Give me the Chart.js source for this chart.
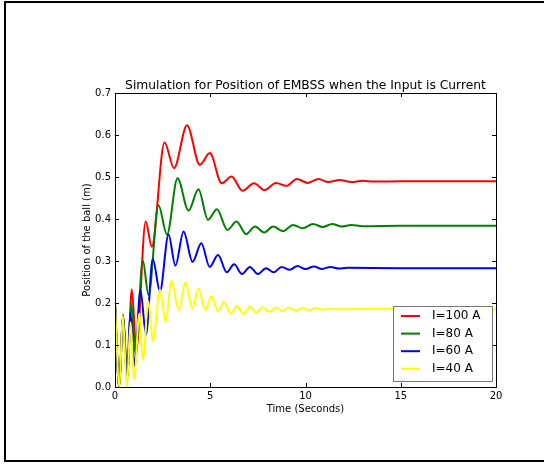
<!DOCTYPE html>
<html>
<head>
<meta charset="utf-8">
<script src="https://cdn.jsdelivr.net/npm/chart.js@4.4.1/dist/chart.umd.min.js"></script>
<style>
  html, body { margin: 0; padding: 0; background: #fff; }
  #wrap { position: relative; width: 544px; height: 466px; overflow: hidden; }
  #frame { position: absolute; left: 4px; top: 1px; width: 600px; height: 461px; box-sizing: border-box; border: 2px solid #000; pointer-events: none; }
</style>
</head>
<body>
<div id="wrap">
  <canvas id="chart" width="544" height="466"></canvas>
  <div id="frame"></div>
</div>
<script>
// values (time in s, position in m), mostly peaks and troughs
const labels = ['I=100 A', 'I=80 A', 'I=60 A', 'I=40 A'];
const colors = ['#ff0000', '#008000', '#0000ff', '#ffff00'];
const titleText = 'Simulation for Position of EMBSS when the Input is Current';

const tRed = [0, 0.22, 0.42, 0.64, 0.88, 1.12, 1.61, 1.93, 2.6, 3.1, 3.78, 4.45, 4.98, 5.6, 6.12, 6.7, 7.3, 7.85, 8.45, 9.0, 9.55, 10.12, 10.68, 11.2, 11.8, 12.4, 13.0, 13.6, 15, 20];
const yRed = [0.2, 0.0, 0.172, 0.02, 0.233, 0.09, 0.394, 0.334, 0.582, 0.521, 0.623, 0.529, 0.557, 0.485, 0.501, 0.467, 0.485, 0.469, 0.486, 0.479, 0.495, 0.486, 0.495, 0.488, 0.493, 0.488, 0.491, 0.489, 0.49, 0.49];

const tGreen = [0, 0.22, 0.42, 0.64, 0.85, 1.07, 1.46, 1.76, 2.28, 2.73, 3.28, 3.86, 4.38, 4.88, 5.35, 5.9, 6.38, 6.88, 7.35, 7.83, 8.3, 8.82, 9.35, 9.85, 10.4, 10.9, 11.4, 11.9, 12.4, 13.0, 15, 20];
const yGreen = [0.2, 0.0, 0.171, 0.02, 0.201, 0.08, 0.301, 0.219, 0.433, 0.363, 0.497, 0.42, 0.471, 0.398, 0.423, 0.374, 0.394, 0.364, 0.382, 0.368, 0.382, 0.371, 0.386, 0.378, 0.388, 0.381, 0.388, 0.382, 0.386, 0.383, 0.384, 0.384];

const tBlue = [0, 0.22, 0.42, 0.63, 0.8, 1.04, 1.33, 1.63, 1.98, 2.36, 2.81, 3.17, 3.6, 4.07, 4.53, 4.97, 5.41, 5.87, 6.25, 6.67, 7.08, 7.5, 7.93, 8.33, 8.75, 9.17, 9.58, 10.0, 10.44, 10.87, 11.3, 11.75, 12.2, 15, 20];
const yBlue = [0.2, 0.0, 0.171, 0.02, 0.176, 0.05, 0.231, 0.125, 0.305, 0.228, 0.363, 0.289, 0.37, 0.298, 0.342, 0.286, 0.314, 0.273, 0.292, 0.269, 0.286, 0.269, 0.283, 0.273, 0.286, 0.279, 0.288, 0.281, 0.287, 0.281, 0.286, 0.282, 0.284, 0.283, 0.283];

const tYellow = [0, 0.23, 0.41, 0.62, 0.82, 1.0, 1.28, 1.46, 1.75, 1.99, 2.36, 2.66, 2.96, 3.35, 3.7, 4.06, 4.38, 4.74, 5.06, 5.41, 5.73, 6.08, 6.4, 6.75, 7.08, 7.42, 7.76, 8.1, 8.45, 8.8, 9.15, 9.5, 9.85, 10.2, 10.55, 10.9, 11.25, 11.6, 15, 20];
const yYellow = [0.198, 0.0, 0.171, 0.0, 0.155, 0.018, 0.175, 0.064, 0.204, 0.109, 0.232, 0.155, 0.253, 0.183, 0.25, 0.187, 0.235, 0.183, 0.216, 0.18, 0.203, 0.175, 0.193, 0.174, 0.191, 0.177, 0.19, 0.179, 0.189, 0.181, 0.189, 0.182, 0.188, 0.183, 0.188, 0.184, 0.187, 0.185, 0.186, 0.186];

const xTicks = [0, 5, 10, 15, 20];
const yTicks = [0.0, 0.1, 0.2, 0.3, 0.4, 0.5, 0.6, 0.7];

const FONT = 'DejaVu Sans';

function toPoints(ts, ys) {
    return ts.map((t, i) => ({ x: t, y: ys[i] }));
}

const series = [[tRed, yRed], [tGreen, yGreen], [tBlue, yBlue], [tYellow, yYellow]];

// title centred over the plot area
const plotTitle = {
    id: 'plotTitle',
    afterDraw(chart) {
        const { ctx, chartArea: a } = chart;
        ctx.save();
        ctx.fillStyle = '#000';
        ctx.font = '12.3px "' + FONT + '"';
        ctx.textAlign = 'center';
        ctx.textBaseline = 'alphabetic';
        ctx.fillText(titleText, (a.left + a.right) / 2, a.top - 4);
        ctx.restore();
    }
};

// matplotlib-like inside ticks on all four sides plus the box
const boxTicks = {
    id: 'boxTicks',
    afterDatasetsDraw(chart) {
        const { ctx, chartArea: a, scales: { x, y } } = chart;
        ctx.save();
        ctx.strokeStyle = '#000';
        ctx.lineWidth = 1;
        ctx.beginPath();
        xTicks.forEach(v => {
            const px = Math.round(x.getPixelForValue(v)) + 0.5;
            ctx.moveTo(px, a.bottom); ctx.lineTo(px, a.bottom - 4);
            ctx.moveTo(px, a.top); ctx.lineTo(px, a.top + 4);
        });
        yTicks.forEach(v => {
            const py = Math.round(y.getPixelForValue(v)) + 0.5;
            ctx.moveTo(a.left, py); ctx.lineTo(a.left + 4, py);
            ctx.moveTo(a.right, py); ctx.lineTo(a.right - 4, py);
        });
        ctx.stroke();
        ctx.strokeRect(Math.round(a.left) + 0.5, Math.round(a.top) + 0.5, Math.round(a.right - a.left), Math.round(a.bottom - a.top));
        ctx.restore();
    }
};

// legend box in the lower right corner of the plot
const cornerLegend = {
    id: 'cornerLegend',
    afterDraw(chart) {
        const { ctx, chartArea: a } = chart;
        const left = a.right - 103, top = a.bottom - 81;
        ctx.save();
        ctx.fillStyle = '#fff';
        ctx.fillRect(left, top, 99, 75);
        ctx.strokeStyle = '#777';
        ctx.lineWidth = 1;
        ctx.strokeRect(left + 0.5, top + 0.5, 99, 75);
        ctx.font = '12px "' + FONT + '"';
        ctx.textBaseline = 'middle';
        chart.data.datasets.forEach((ds, i) => {
            const cy = top + 10 + i * 17.6;
            ctx.strokeStyle = ds.borderColor;
            ctx.lineWidth = 2;
            ctx.beginPath();
            ctx.moveTo(left + 8, cy); ctx.lineTo(left + 27, cy);
            ctx.stroke();
            ctx.fillStyle = '#000';
            ctx.fillText(ds.label, left + 39, cy);
        });
        ctx.restore();
    }
};

new Chart(document.getElementById('chart'), {
    type: 'line',
    data: {
        datasets: series.map((s, i) => ({
            label: labels[i],
            data: toPoints(s[0], s[1]),
            borderColor: colors[i],
            backgroundColor: colors[i],
            borderWidth: 2,
            pointRadius: 0,
            fill: false,
            cubicInterpolationMode: 'monotone',
            order: 4 - i
        }))
    },
    options: {
        responsive: false,
        animation: false,
        layout: { padding: { left: 0, top: 93, right: 48, bottom: 0 } },
        plugins: {
            legend: { display: false },
            tooltip: { enabled: false },
            title: { display: false }
        },
        scales: {
            x: {
                type: 'linear',
                min: 0,
                max: 20,
                afterFit(scale) { scale.height = 79; },
                afterBuildTicks(scale) { scale.ticks = xTicks.map(v => ({ value: v })); },
                grid: { display: false, drawTicks: false },
                border: { display: false },
                ticks: {
                    color: '#000',
                    font: { family: FONT, size: 10 },
                    padding: 3,
                    maxRotation: 0,
                    callback: v => String(v)
                },
                title: {
                    display: true,
                    text: 'Time (Seconds)',
                    color: '#000',
                    font: { family: FONT, size: 10 },
                    padding: { top: 0, bottom: 51 }
                }
            },
            y: {
                type: 'linear',
                min: 0,
                max: 0.7,
                afterFit(scale) { scale.width = 115; },
                afterBuildTicks(scale) { scale.ticks = yTicks.map(v => ({ value: v })); },
                grid: { display: false, drawTicks: false },
                border: { display: false },
                ticks: {
                    color: '#000',
                    font: { family: FONT, size: 10 },
                    padding: 4,
                    callback: v => v.toFixed(1)
                },
                title: {
                    display: true,
                    text: 'Position of the ball (m)',
                    color: '#000',
                    font: { family: FONT, size: 10 },
                    padding: { top: 81, bottom: 0 }
                }
            }
        }
    },
    plugins: [plotTitle, boxTicks, cornerLegend]
});
</script>
</body>
</html>
